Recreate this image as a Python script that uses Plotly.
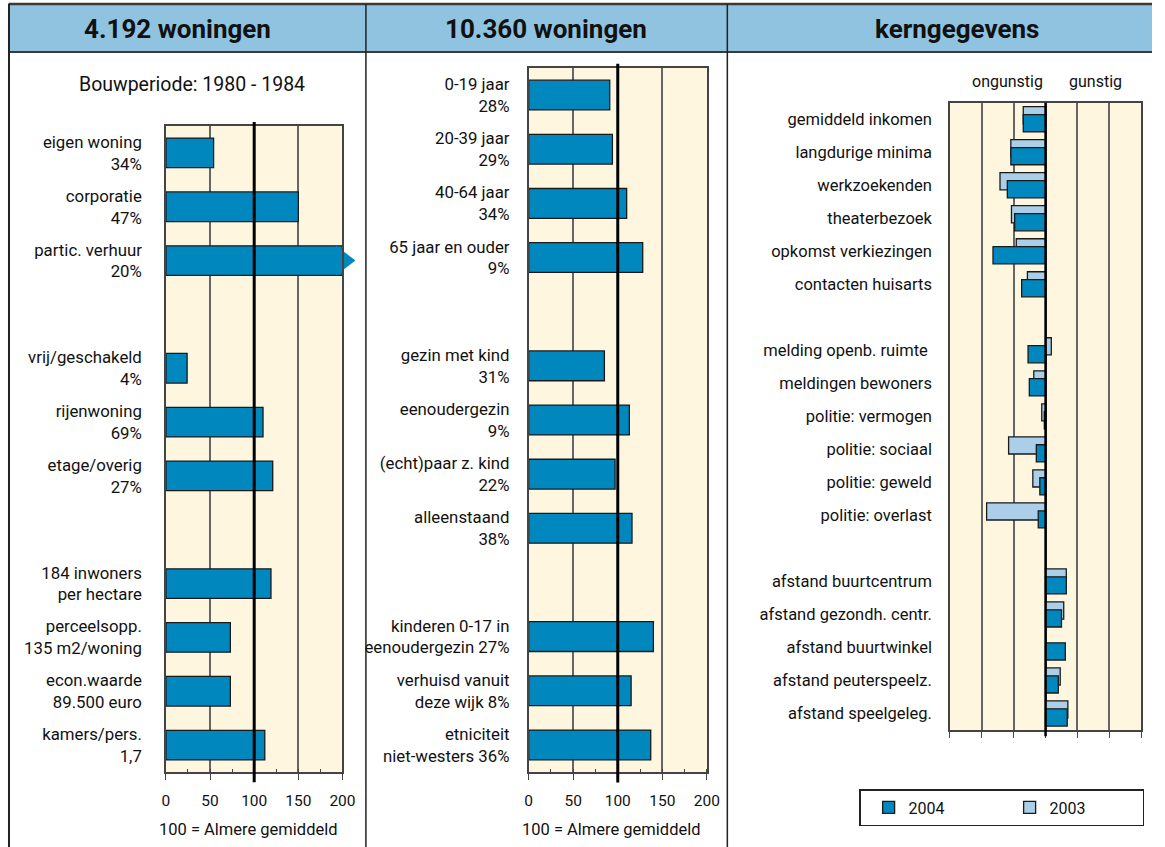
import plotly.graph_objects as go

W, H = 1165, 847
# the page snapshot comes out slightly squeezed horizontally; positions below
# are given in snapshot pixels and mapped back to figure pixels
X_SHIFT, X_SCALE = 3.5, 0.987

# ---- data -------------------------------------------------------------
left_labels = [
    "eigen woning<br>34%", "corporatie<br>47%", "partic. verhuur<br>20%", None,
    "vrij/geschakeld<br>4%", "rijenwoning<br>69%", "etage/overig<br>27%", None,
    "184 inwoners<br>per hectare", "perceelsopp.<br>135 m2/woning",
    "econ.waarde<br>89.500 euro", "kamers/pers.<br>1,7",
]
left_values = [54, 150, 230, None, 24, 110, 121, None, 119, 73, 73, 112]

mid_labels = [
    "0-19 jaar<br>28%", "20-39 jaar<br>29%", "40-64 jaar<br>34%",
    "65 jaar en ouder<br>9%", None,
    "gezin met kind<br>31%", "eenoudergezin<br>9%", "(echt)paar z. kind<br>22%",
    "alleenstaand<br>38%", None,
    "kinderen 0-17 in<br>eenoudergezin 27%", "verhuisd vanuit<br>deze wijk 8%",
    "etniciteit<br>niet-westers 36%",
]
mid_values = [91, 94, 110, 128, None, 85, 113, 97, 116, None, 140, 115, 137]

kern_labels = [
    "gemiddeld inkomen", "langdurige minima", "werkzoekenden", "theaterbezoek",
    "opkomst verkiezingen", "contacten huisarts", None,
    "melding openb. ruimte ", "meldingen bewoners", "politie: vermogen",
    "politie: sociaal", "politie: geweld", "politie: overlast", None,
    "afstand buurtcentrum", "afstand gezondh. centr.", "afstand buurtwinkel",
    "afstand peuterspeelz.", "afstand speelgeleg.",
]
kern_2003 = [-0.70, -1.09, -1.43, -1.07, -0.92, -0.57, None,
             0.18, -0.37, -0.12, -1.16, -0.40, -1.85, None,
             0.65, 0.57, None, 0.46, 0.70]
kern_2004 = [-0.70, -1.09, -1.20, -0.97, -1.65, -0.75, None,
             -0.55, -0.51, -0.04, -0.29, -0.18, -0.23, None,
             0.65, 0.50, 0.62, 0.40, 0.68]

scale_ticks = [0, 50, 100, 150, 200]
kern_ticks = [-3, -2, -1, 0, 1, 2, 3]

# ---- styling ----------------------------------------------------------
FONT = "Roboto, 'Noto Sans', sans-serif"
DARK = "#0088BE"
LIGHT = "#ABCFE8"
EDGE = "#1a1a1a"
CREAM = "#FEF6DF"
GRID = "#666666"
HEADER = "#8FC3E0"
CAP = 200


def px_x(p):
    return min(max((p - X_SHIFT) / X_SCALE / W, 0), 1)


def px_y(p):
    return min(max(1 - p / H, 0), 1)


def slots(labels):
    return [i for i, lab in enumerate(labels) if lab is not None]


fig = go.Figure()

# left + middle panels (index bars)
for labels, values, xa, ya in [
    (left_labels, left_values, "x", "y"),
    (mid_labels, mid_values, "x2", "y2"),
]:
    pos = slots(labels)
    vals = [values[i] for i in pos]
    fig.add_trace(go.Bar(
        x=[min(v, CAP) for v in vals], y=pos, orientation="h", width=0.55,
        marker=dict(color=DARK, line=dict(color=EDGE, width=1.3)),
        xaxis=xa, yaxis=ya, showlegend=False, hoverinfo="skip",
    ))
    over = [(CAP, p) for p, v in zip(pos, vals) if v > CAP]
    if over:
        fig.add_trace(go.Scatter(
            x=[o[0] for o in over], y=[o[1] for o in over], mode="markers",
            marker=dict(symbol="triangle-right", size=26, color=DARK,
                        line=dict(width=0)),
            cliponaxis=False, xaxis=xa, yaxis=ya, showlegend=False,
            hoverinfo="skip",
        ))

# right panel (kerngegevens)
kpos = slots(kern_labels)
fig.add_trace(go.Bar(
    x=[kern_2003[i] for i in kpos], y=kpos, orientation="h",
    width=0.52, offset=-0.38, name="2003", legendrank=2,
    marker=dict(color=LIGHT, line=dict(color=EDGE, width=1.3)),
    xaxis="x3", yaxis="y3", hoverinfo="skip",
))
fig.add_trace(go.Bar(
    x=[kern_2004[i] for i in kpos], y=kpos, orientation="h",
    width=0.52, offset=-0.14, name="2004", legendrank=1,
    marker=dict(color=DARK, line=dict(color=EDGE, width=1.3)),
    xaxis="x3", yaxis="y3", hoverinfo="skip",
))

axis_common = dict(showline=True, linecolor="#444", linewidth=1.5, mirror=True,
                   zeroline=False, fixedrange=True)
index_x = dict(range=[0, CAP], tickvals=scale_ticks, showgrid=True,
               gridcolor=GRID, gridwidth=1.6, ticks="outside", ticklen=6,
               tickcolor="#444", ticklabelstandoff=8, tickfont=dict(size=15.5),
               minor=dict(dtick=25, ticks="inside", ticklen=3, tickcolor="#444"),
               **axis_common)

fig.update_layout(
    width=W, height=H, margin=dict(l=0, r=0, t=0, b=0),
    paper_bgcolor="white", plot_bgcolor=CREAM, barmode="overlay",
    font=dict(family=FONT, size=16, color="#111"),
    xaxis=dict(domain=[px_x(165.7), px_x(342.5)], anchor="y", **index_x),
    yaxis=dict(domain=[px_y(772), px_y(126)], anchor="x",
               range=[len(left_labels) - 0.5, -0.5],
               tickvals=slots(left_labels),
               ticktext=[l for l in left_labels if l is not None],
               tickfont=dict(size=16.8),
               showgrid=False, ticks="", ticklabelstandoff=19, **axis_common),
    xaxis2=dict(domain=[px_x(529), px_x(707.5)], anchor="y2", **index_x),
    yaxis2=dict(domain=[px_y(772), px_y(68)], anchor="x2",
                range=[len(mid_labels) - 0.5, -0.5],
                tickvals=slots(mid_labels),
                ticktext=[l for l in mid_labels if l is not None],
                tickfont=dict(size=16.8),
                showgrid=False, ticks="", ticklabelstandoff=14, **axis_common),
    xaxis3=dict(domain=[px_x(951), px_x(1142.5)], anchor="y3", range=[-3, 3],
                tickvals=kern_ticks, showticklabels=False, showgrid=True,
                gridcolor=GRID, gridwidth=1.6, ticks="outside", ticklen=6,
                tickcolor="#444", **axis_common),
    yaxis3=dict(domain=[px_y(730), px_y(102.7)], anchor="x3",
                range=[len(kern_labels) - 0.5, -0.5],
                tickvals=kpos, ticktext=[l for l in kern_labels if l is not None],
                showgrid=False, ticks="", ticklabelstandoff=13,
                tickfont=dict(size=16.5), **axis_common),
    legend=dict(orientation="h", x=px_x(860), y=px_y(789), xanchor="left",
                yanchor="top", bgcolor="white", bordercolor="#222", borderwidth=1.5,
                font=dict(size=16), entrywidth=88, entrywidthmode="pixels",
                indentation=8, itemclick=False, itemdoubleclick=False),
)

shapes = [
    # header band
    dict(type="rect", xref="paper", yref="paper", x0=px_x(8), x1=1,
         y0=px_y(52), y1=px_y(4), fillcolor=HEADER, line=dict(width=0),
         layer="below"),
    dict(type="line", xref="paper", yref="paper", x0=px_x(8), x1=1,
         y0=px_y(52), y1=px_y(52), line=dict(color="#3a3a3a", width=2)),
    dict(type="line", xref="paper", yref="paper", x0=px_x(8), x1=1,
         y0=px_y(4), y1=px_y(4), line=dict(color="#3a3a3a", width=2.5)),
    # frame lines
    dict(type="line", xref="paper", yref="paper", x0=px_x(8.5), x1=px_x(8.5),
         y0=0, y1=px_y(4), line=dict(color="#222", width=2)),
    dict(type="line", xref="paper", yref="paper", x0=px_x(366), x1=px_x(366),
         y0=0, y1=px_y(4), line=dict(color="#222", width=1.5)),
    dict(type="line", xref="paper", yref="paper", x0=px_x(728), x1=px_x(728),
         y0=0, y1=px_y(4), line=dict(color="#222", width=1.5)),
    # reference lines: 100 = average, 0 = kern baseline
    dict(type="line", xref="x", yref="y domain", x0=100, x1=100, y0=-0.016,
         y1=1.006, line=dict(color="black", width=3)),
    dict(type="line", xref="x2", yref="y2 domain", x0=100, x1=100, y0=-0.015,
         y1=1.006, line=dict(color="black", width=3)),
    dict(type="line", xref="x3", yref="y3 domain", x0=0, x1=0, y0=-0.01,
         y1=1.0, line=dict(color="black", width=2.5)),
]
fig.update_layout(shapes=shapes)

ann = [
    dict(text="<b>4.192 woningen</b>", x=px_x(177), y=px_y(29), size=26),
    dict(text="<b>10.360 woningen</b>", x=px_x(546), y=px_y(29), size=26),
    dict(text="<b>kerngegevens</b>", x=px_x(958), y=px_y(29), size=26),
    dict(text="Bouwperiode: 1980 - 1984", x=px_x(192), y=px_y(84), size=19.5),
    dict(text="100 = Almere gemiddeld", x=px_x(248), y=px_y(829), size=16.5),
    dict(text="100 = Almere gemiddeld", x=px_x(612), y=px_y(829), size=16.5),
    dict(text="ongunstig", x=px_x(1009), y=px_y(81), size=16),
    dict(text="gunstig", x=px_x(1097), y=px_y(81), size=16),
]
for a in ann:
    fig.add_annotation(text=a["text"], x=a["x"], y=a["y"], xref="paper",
                       yref="paper", showarrow=False, xanchor="center",
                       yanchor="middle", font=dict(size=a["size"], family=FONT,
                                                   color="#111"))

fig.write_html(
    "out.html",
    config={"displayModeBar": False, "responsive": False},
    post_script="document.body.style.margin='0';"
                "document.body.style.overflow='hidden';"
                "document.documentElement.style.overflow='hidden';",
)
